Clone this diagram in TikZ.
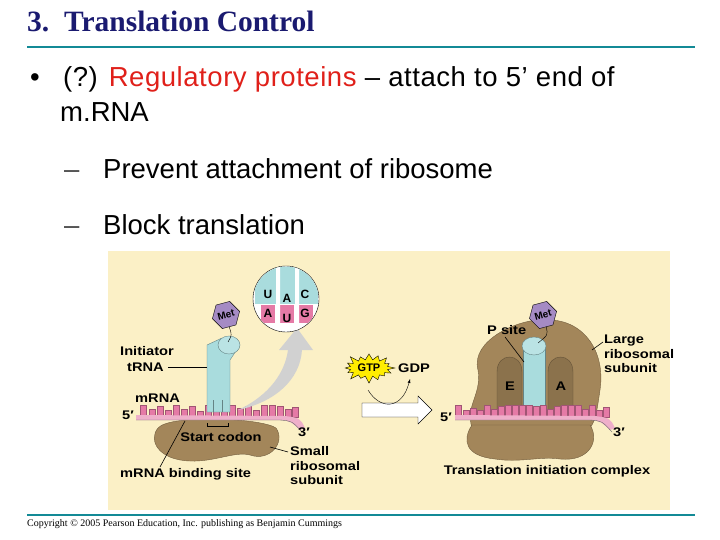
\documentclass[tikz,border=0pt]{standalone}
\usepackage{fontspec}
\setmainfont{Liberation Sans}
\newfontfamily\serif{Liberation Serif}
\newfontfamily\wide[FakeStretch=1.17]{Liberation Sans}
\usetikzlibrary{shapes.geometric,shapes.arrows,shapes.misc,shapes.symbols}
\definecolor{navy}{HTML}{1A1A70}
\definecolor{teal}{HTML}{138A96}
\definecolor{bg}{HTML}{FBF0C6}
\definecolor{brown}{HTML}{A3865A}
\definecolor{pinkm}{HTML}{E57AA6}
\definecolor{trna}{HTML}{A9DCDD}
\definecolor{metc}{HTML}{A58BC4}
\definecolor{redt}{HTML}{E0201A}
\tikzset{
  lab/.style={font=\wide\bfseries\fontsize{12.5}{14.5}\selectfont, align=left, inner sep=0pt},
  txt/.style={font=\fontsize{27.5}{30}\selectfont, anchor=base west, inner sep=0pt},
  met/.style={regular polygon, regular polygon sides=6, fill=metc, draw=black, thin, minimum size=26pt, inner sep=0pt, font=\bfseries\fontsize{10}{10}\selectfont, rotate=15},
  blob/.style={fill=brown, draw=brown!70!black, thin},
  tooth/.style={fill=pinkm, draw=pinkm!70!black, line width=0.3pt},
  leader/.style={draw=black, line width=0.6pt},
}
\begin{document}
\begin{tikzpicture}[x=1pt,y=-1pt]
\useasboundingbox (0,0) rectangle (720,540);
\fill[white] (0,0) rectangle (720,540);
% title
\node[anchor=west, inner sep=0pt, text=navy, font=\serif\bfseries\fontsize{29.5}{32}\selectfont] (title) at (27,21) {3.\ \ Translation Control};
\draw[teal, line width=2.5pt] (27,47) -- (695,47);
\node[txt] (bul) at (30,87) {•};
\node[txt, font=\fontsize{27.5}{30}\selectfont\addfontfeature{LetterSpace=2}] (b1) at (63,87) {(?) \textcolor{redt}{Regulatory proteins} – attach to 5’ end of};
\node[txt] (b1b) at (60,122) {m.RNA};
\node[txt, text=black!70] (d1) at (64,179) {–};
\node[txt] (s1) at (103,179) {Prevent attachment of ribosome};
\node[txt, text=black!70] (d2) at (64,235) {–};
\node[txt] (s2) at (103,235) {Block translation};
% figure
\fill[bg] (108,251) rectangle (670,510);
% ---- left: small subunit
\path[blob] (158,428) .. controls (170,414) and (262,418) .. (276,428) .. controls (286,442) and (270,462) .. (250,455) .. controls (235,451) and (215,462) .. (190,461) .. controls (158,460) and (148,440) .. (158,428) -- cycle;
% mRNA left
\foreach \x/\h in {140/12,149/8,157/11,165/7,173/12,181/8,189/11,197/6,205/12,213/12,221/12,229/12,237/9,245/11,253/7,261/12,269/12,277/11,285/8,292/10}
  \path[tooth] (\x,417) rectangle ++(6.5,-\h);
\fill[pinkm!60!white] (136,415) -- (285,416) .. controls (300,418) .. (305,428) -- (300,430) .. controls (290,421) .. (280,420) -- (136,420) -- cycle;
\draw[black!60, thin] (136,420) -- (280,420) .. controls (292,421) .. (302,432);
% tRNA left
\path[fill=trna, draw=trna!60!black, thin] (207,345) -- (207,412) -- (230,412) -- (230,360) -- (238,348) -- (222,338) -- cycle;
\draw[trna!60!black, thin] (213,412) -- (213,400) (222,412) -- (222,400);
\path[fill=trna!80!white, draw=trna!60!black, thin] (229,345) ellipse [x radius=11pt, y radius=9pt];
\node[met] (met1) at (226,315) {Met};
\draw[black, thin] (met1.south) .. controls (232,335) .. (228,342);
% gray arrow
\fill[black!18] (238,410) .. controls (270,395) and (285,372) .. (288,350) -- (279,350) -- (297,328) -- (313,350) -- (302,350) .. controls (300,380) and (275,402) .. (238,410) -- cycle;
% zoom circle
\path[fill=white, draw=black, thin] (286,299) circle (33);
\begin{scope}
\clip (286,299) circle (32.5);
\fill[trna] (255,265) rectangle (318,304);
\foreach \x in {261,280,299} \fill[pinkm] (\x,305) rectangle ++(14,18);
\fill[white] (276,265) rectangle (280,330) (295,265) rectangle (299,330);
\end{scope}
\foreach \c/\x/\y in {U/268/294,A/287/298,C/305/294,A/268/313,U/287/318,G/305/313}
  \node[font=\bfseries\fontsize{12}{12}\selectfont, inner sep=0pt] at (\x,\y) {\c};
% labels left
\node[lab, anchor=west] (itr) at (120,351) {Initiator};
\node[lab, anchor=west] (itr2) at (127,367) {tRNA};
\draw[leader] (itr2.east) ++(4,0) -- (207,367);
\node[lab, anchor=west] (mrnal) at (135,398) {mRNA};
\node[lab, anchor=west] (fivel) at (122,415) {5′};
\node[lab, anchor=west] (threel) at (298,432) {3′};
\node[lab] (start) at (221,437) {Start codon};
\draw[leader] (207,423) -- (207,426) -- (228,426) -- (228,423);
\node[lab, anchor=west] (mbs) at (120,474) {mRNA binding site};
\draw[leader] (160,467) -- (185,421);
\node[lab, anchor=west] (ssu) at (290,466) {Small\\ribosomal\\subunit};
\draw[leader] (288,452) -- (270,447);
% ---- middle
\node[starburst, starburst points=16, starburst point height=8pt, fill=yellow!95!orange, draw=black, thin, inner sep=2pt, font=\bfseries\fontsize{11}{11}\selectfont] (gtp) at (369,368) {GTP};
\node[lab] (gdp) at (414,368) {GDP};
\path[draw=black, thin, fill=white] (362,403) -- (418,403) -- (418,396) -- (432,410) -- (418,424) -- (418,417) -- (362,417) -- cycle;
\draw[black, thin, -latex] (368,390) .. controls (380,410) and (402,410) .. (410,379);
% ---- right: large subunit
\path[blob] (478,370) .. controls (470,340) and (520,318) .. (545,320) .. controls (582,318) and (606,350) .. (600,390) .. controls (597,410) and (596,420) .. (590,428) -- (472,428) .. controls (465,405) and (482,395) .. (478,370) -- cycle;
\path[blob] (472,425) -- (590,425) .. controls (600,440) and (590,462) .. (560,459) .. controls (540,456) and (520,463) .. (495,459) .. controls (465,456) and (462,440) .. (472,425) -- cycle;
\path[fill=brown!85!black, draw=brown!60!black, thin] (497,418) -- (497,372) .. controls (497,352) and (522,352) .. (522,372) -- (522,418);
\path[fill=brown!85!black, draw=brown!60!black, thin] (548,418) -- (548,372) .. controls (548,352) and (573,352) .. (573,372) -- (573,418);
\node[lab] (e) at (510,386) {E};
\node[lab] (a) at (561,386) {A};
% tRNA right
\path[fill=trna, draw=trna!60!black, thin] (523,345) -- (523,408) -- (545,408) -- (545,345) -- cycle;
\path[fill=trna!80!white, draw=trna!60!black, thin] (534,346) ellipse [x radius=12pt, y radius=9pt];
\draw[trna!60!black, thin] (529,408) -- (529,418) (539,408) -- (539,418);
\node[met] (met2) at (543,315) {Met};
\draw[black, thin] (met2.south) .. controls (548,335) .. (538,343);
% mRNA right
\foreach \x/\h in {455/12,463/7,470/9,477/7,484/12,491/8,498/11,505/12,512/12,519/12,526/12,533/11,540/12,547/8,554/11,561/12,568/12,575/12,582/8,589/12,596/7,603/10}
  \path[tooth] (\x,417) rectangle ++(6,-\h);
\fill[pinkm!60!white] (455,415) -- (595,416) .. controls (610,418) .. (615,428) -- (610,430) .. controls (600,421) .. (590,420) -- (455,420) -- cycle;
\draw[black!60, thin] (455,420) -- (590,420) .. controls (602,421) .. (612,432);
\node[lab, anchor=west] (fiver) at (440,417) {5′};
\node[lab, anchor=west] (threer) at (613,432) {3′};
\node[lab, anchor=west] (psite) at (487,330) {P site};
\draw[leader] (505,337) -- (524,362);
\node[lab, anchor=west] (lsu) at (604,354) {Large\\ribosomal\\subunit};
\draw[leader] (603,342) -- (592,350);
\node[lab] (tic) at (547,471) {Translation initiation complex};
% footer
\draw[teal, line width=1.5pt] (27,515) -- (695,515);
\node[anchor=west, inner sep=0pt, font=\serif\fontsize{10}{11}\selectfont] (copy) at (27,524) {Copyright © 2005 Pearson Education, Inc. publishing as Benjamin Cummings};
\end{tikzpicture}
\end{document}
